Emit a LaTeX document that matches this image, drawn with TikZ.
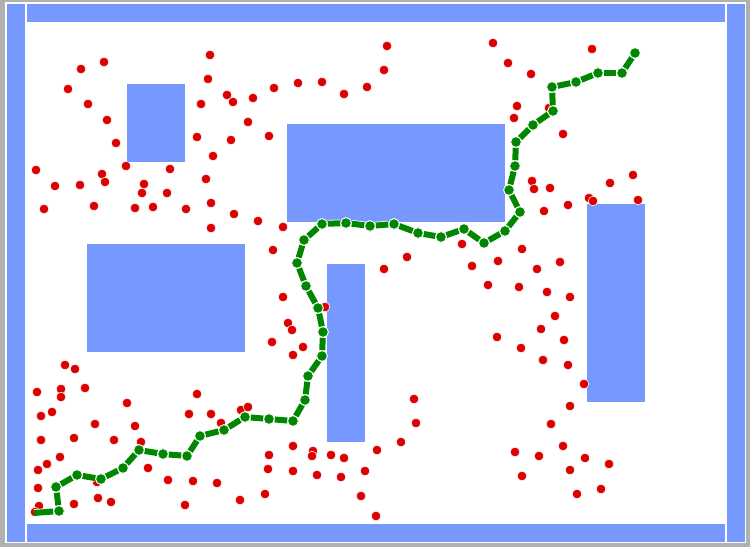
\documentclass[tikz,border=0pt]{standalone}
\usepackage{tikz}
\usetikzlibrary{positioning,calc}

\definecolor{obstblue}{RGB}{119,153,255}
\definecolor{samplered}{RGB}{221,0,0}
\definecolor{pathgreen}{RGB}{0,134,0}
\definecolor{framegray}{RGB}{176,176,176}

\begin{document}
\begin{tikzpicture}[
    x=0.75pt, y=-0.75pt,
    obst/.style={fill=obstblue, draw=white, line width=0.5pt},
    sample/.style={circle, fill=samplered, draw=white, line width=0.4pt, inner sep=0pt, minimum size=7.2pt},
    waypoint/.style={circle, fill=pathgreen, draw=white, line width=0.6pt, inner sep=0pt, minimum size=8pt},
    link/.style={pathgreen, line width=4.5pt, preaction={draw=white, line width=5.6pt}}
]
    \useasboundingbox (0,0) rectangle (750,547);

    % Frame
    \fill[framegray] (0,0) rectangle (750,547);
    \fill[white] (5,2) rectangle (746,543);

    % Walls
    \path[obst] (6,3) rectangle (25,542);
    \path[obst] (26,3) rectangle (725,22);
    \path[obst] (726,3) rectangle (745,542);
    \path[obst] (26,523) rectangle (725,542);

    % Obstacles
    \path[obst] (126,83) rectangle (185,162);
    \path[obst] (86,243) rectangle (245,352);
    \path[obst] (286,123) rectangle (505,222);
    \path[obst] (326,263) rectangle (365,442);
    \path[obst] (586,203) rectangle (645,402);

    % Samples
    \foreach \x/\y [count=\i] in {
        210/55,104/62,81/69,208/79,68/89,227/95,233/102,253/98,88/104,201/104,
        107/120,248/122,116/143,197/137,231/140,213/156,36/170,126/166,170/169,102/174,
        105/182,55/186,80/185,144/184,142/193,167/193,206/179,44/209,94/206,135/208,
        153/207,186/209,211/203,234/214,211/228,
        387/46,493/43,384/70,274/88,298/83,322/82,344/94,367/87,269/136,258/221,
        283/227,273/250,407/257,384/269,462/244,472/266,498/261,
        592/49,508/63,531/74,517/106,514/118,549/108,563/134,532/181,534/189,550/188,
        568/205,544/211,589/198,593/201,610/183,633/175,638/200,522/249,560/262,537/269,
        65/365,75/369,37/392,61/389,61/397,85/388,41/416,52/412,127/403,95/424,
        135/426,41/440,74/438,114/440,141/442,60/457,47/464,38/470,148/468,38/488,
        97/482,168/480,193/481,217/483,74/504,98/498,111/502,39/506,35/512,185/505,
        240/500,197/394,189/414,211/414,221/423,241/410,248/407,
        488/285,283/297,325/307,288/323,292/330,272/342,303/347,293/355,497/337,414/399,
        416/423,401/442,377/450,293/446,313/451,312/456,269/455,331/455,344/458,268/469,
        293/471,317/475,341/477,365/471,265/494,361/496,376/516,
        519/287,547/292,570/297,555/316,541/329,564/340,521/348,543/360,568/365,584/384,
        570/406,551/424,563/446,515/452,539/456,585/458,609/464,570/470,522/476,601/489,
        577/494}
        \node[sample] (s\i) at (\x,\y) {};

    % Path
    \coordinate (w0) at (34,513);
    \foreach \x/\y [count=\i] in {
        59/511,56/487,77/475,101/479,123/468,139/450,163/454,187/456,200/436,224/430,
        245/417,269/419,293/421,305/400,308/376,322/356,323/332,318/308,306/286,297/263,
        304/240,322/224,346/223,370/226,394/224,418/233,441/237,464/229,484/243,505/231,
        520/212,509/190,515/166,516/142,533/125,553/111,552/87,576/82,598/73,622/73,
        635/53}
        \node[waypoint] (w\i) at (\x,\y) {};

    \foreach \i [remember=\i as \j (initially 0)] in {1,...,41}
        \draw[link] (w\j) -- (w\i);

    % Waypoints on top
    \foreach \i in {1,...,41}
        \path (w\i) node[waypoint] {};
\end{tikzpicture}
\end{document}
